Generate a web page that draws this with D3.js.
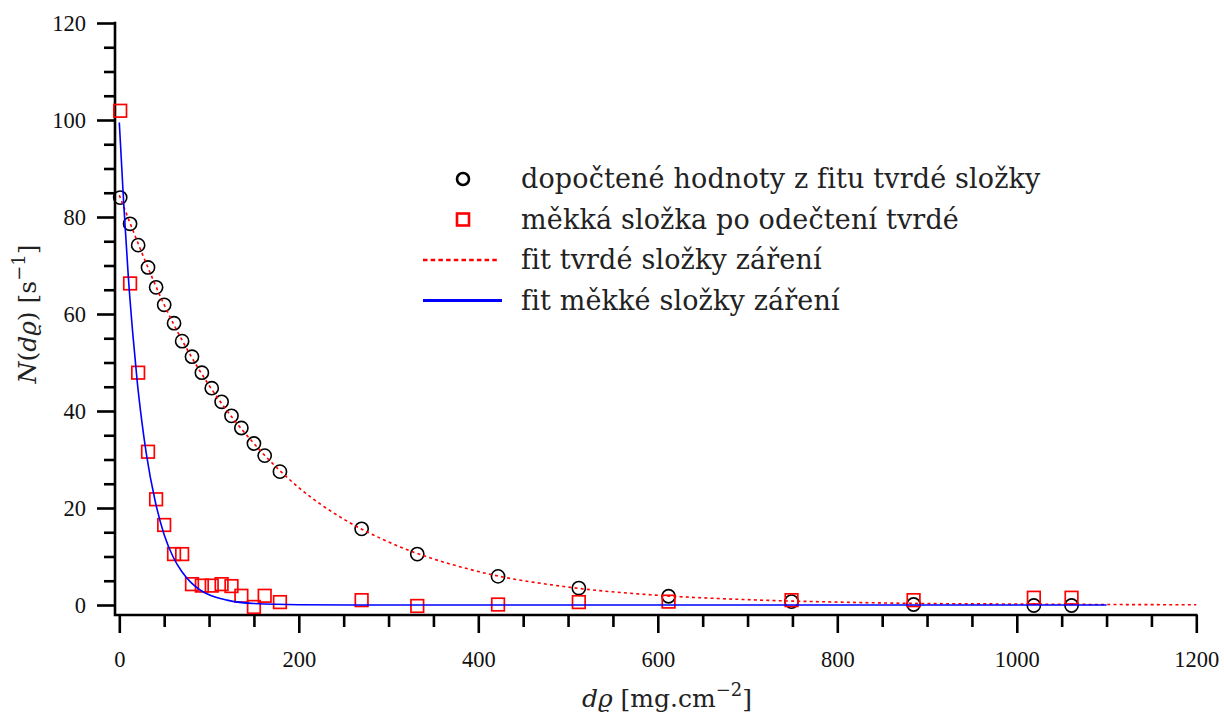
<!DOCTYPE html>
<html>
<head>
<meta charset="utf-8">
<script src="https://cdn.jsdelivr.net/npm/d3@7"></script>
<style>
    body { margin: 0; background: #fff; }
    svg { display: block; }
</style>
</head>
<body>
<svg id="chart" width="1224" height="715"></svg>
<script>
// plošná hustota absorbátoru [mg.cm^-2]
const thickness = [1, 12, 21, 32, 41, 50, 61, 70, 81, 92, 103, 114, 125, 136, 150, 162, 179,
    270, 332, 422, 512, 612, 749, 885, 1019, 1061];
// dopočtené hodnoty z fitu tvrdé složky
const hardCounts = [84.0, 78.6, 74.2, 69.6, 65.5, 61.9, 58.1, 54.4, 51.2, 47.9, 44.7, 41.9, 39.0,
    36.5, 33.3, 30.8, 27.5, 15.7, 10.5, 5.9, 3.5, 1.8, 0.7, 0.1, -0.1, -0.1];
// měkká složka po odečtení tvrdé
const softCounts = [101.9, 66.3, 47.9, 31.6, 21.8, 16.5, 10.5, 10.5, 4.3, 4.0, 4.0, 4.3, 3.9,
    1.9, -0.4, 1.9, 0.6, 1.0, -0.2, 0.1, 0.6, 0.7, 1.0, 1.0, 1.5, 1.5];

// body odečtené z křivek fitů
const hardFitX = [0, 25, 50, 75, 100, 150, 200, 250, 300, 400, 500, 600, 700, 800, 900, 1000, 1100, 1200];
const hardFitY = [84.5, 72.7, 61.9, 52.9, 45.3, 33.3, 24.2, 17.7, 13.0, 6.9, 3.7, 2.0, 1.1, 0.6, 0.3, 0.2, 0.1, 0.05];
const softFitX = [0, 5, 10, 15, 20, 25, 30, 40, 50, 60, 70, 80, 90, 100, 120, 150, 200, 300, 500, 800, 1100];
const softFitY = [99.5, 82.5, 67.8, 56.0, 46.0, 38.0, 31.3, 21.4, 14.5, 9.9, 6.8, 4.6, 3.1, 2.1, 1.0, 0.3, 0.05, 0, 0, 0, 0];

const xMajor = [0, 200, 400, 600, 800, 1000, 1200];
const yMajor = [0, 20, 40, 60, 80, 100, 120];

const legendItems = [
    "dopočtené hodnoty z fitu tvrdé složky",
    "měkká složka po odečtení tvrdé",
    "fit tvrdé složky záření",
    "fit měkké složky záření"
];

const tickFont = "'Liberation Serif', serif";
const textFont = "'DejaVu Serif', serif";

const svg = d3.select("#chart");
svg.append("rect").attr("width", 1224).attr("height", 715).attr("fill", "#fff");

const x = d3.scaleLinear().domain([0, 1200]).range([119.3, 1196.3]);
const y = d3.scaleLinear().domain([0, 120]).range([605, 23]);

const leftX = 115;
const bottomY = 615;

// osy
const xMinor = d3.range(0, 1201, 50).filter(v => v % 200 !== 0);
const yMinor = d3.range(0, 121, 5).filter(v => v % 20 !== 0);

const styleAxis = g => {
    g.select(".domain").remove();
    g.attr("font-family", tickFont).attr("font-size", 22.5);
    g.selectAll(".tick line").attr("stroke", "#000").attr("stroke-width", 2.6);
    g.selectAll(".tick text").attr("fill", "#111");
};

svg.append("g")
    .attr("transform", `translate(0,${bottomY})`)
    .call(d3.axisBottom(x).tickValues(xMinor).tickSize(12).tickFormat(""))
    .call(styleAxis);
svg.append("g")
    .attr("transform", `translate(0,${bottomY})`)
    .call(d3.axisBottom(x).tickValues(xMajor).tickSize(18).tickPadding(18).tickFormat(d3.format("d")))
    .call(styleAxis)
    .selectAll(".tick text").attr("dy", "0.71em");

svg.append("g")
    .attr("transform", `translate(${leftX},0)`)
    .call(d3.axisLeft(y).tickValues(yMinor).tickSize(11).tickFormat(""))
    .call(styleAxis);
svg.append("g")
    .attr("transform", `translate(${leftX},0)`)
    .call(d3.axisLeft(y).tickValues(yMajor).tickSize(18).tickPadding(11).tickFormat(d3.format("d")))
    .call(styleAxis);

svg.append("path")
    .attr("d", `M${leftX},${y(120) - 1.3}V${bottomY}H${x(1200) + 1.3}`)
    .attr("fill", "none")
    .attr("stroke", "#000")
    .attr("stroke-width", 2.6);

// body
const pts = thickness.map((t, i) => ({t, hard: hardCounts[i], soft: softCounts[i]}));

svg.append("g").selectAll("circle")
    .data(pts)
    .join("circle")
    .attr("cx", d => x(d.t))
    .attr("cy", d => y(d.hard))
    .attr("r", 6.6)
    .attr("fill", "none")
    .attr("stroke", "#000")
    .attr("stroke-width", 1.6);

const sq = 12.6;
svg.append("g").selectAll("rect")
    .data(pts)
    .join("rect")
    .attr("x", d => x(d.t) - sq / 2)
    .attr("y", d => y(d.soft) - sq / 2)
    .attr("width", sq)
    .attr("height", sq)
    .attr("fill", "none")
    .attr("stroke", "#f00")
    .attr("stroke-width", 1.7);

// fity
const line = d3.line()
    .x(d => x(d[0]))
    .y(d => y(d[1]))
    .curve(d3.curveMonotoneX);

svg.append("path")
    .attr("d", line(d3.zip(hardFitX, hardFitY)))
    .attr("fill", "none")
    .attr("stroke", "#f00")
    .attr("stroke-width", 1.6)
    .attr("stroke-dasharray", "3,3.2");

svg.append("path")
    .attr("d", line(d3.zip(softFitX, softFitY)))
    .attr("fill", "none")
    .attr("stroke", "#00f")
    .attr("stroke-width", 1.6);

// legenda
const legend = svg.append("g");
const rowY = i => 179 + i * 40.5;

legend.append("circle")
    .attr("cx", 463).attr("cy", rowY(0)).attr("r", 6)
    .attr("fill", "none").attr("stroke", "#000").attr("stroke-width", 2.6);
legend.append("rect")
    .attr("x", 457).attr("y", rowY(1) - 6).attr("width", 12).attr("height", 12)
    .attr("fill", "none").attr("stroke", "#f00").attr("stroke-width", 2.6);
legend.append("line")
    .attr("x1", 423).attr("x2", 498).attr("y1", rowY(2)).attr("y2", rowY(2))
    .attr("stroke", "#f00").attr("stroke-width", 2.6).attr("stroke-dasharray", "4.5,3.2");
legend.append("line")
    .attr("x1", 423).attr("x2", 502).attr("y1", rowY(3)).attr("y2", rowY(3))
    .attr("stroke", "#00f").attr("stroke-width", 2.8);

legend.selectAll("text")
    .data(legendItems)
    .join("text")
    .attr("font-family", textFont)
    .attr("font-size", 27)
    .attr("letter-spacing", 0.15)
    .attr("fill", "#222")
    .attr("x", 521)
    .attr("y", (d, i) => rowY(i) + 9)
    .text(d => d);

// popisky os
const xLabel = svg.append("text")
    .attr("font-family", textFont)
    .attr("font-size", 25)
    .attr("fill", "#222")
    .attr("x", 667)
    .attr("y", 707)
    .attr("text-anchor", "middle");
xLabel.append("tspan").attr("font-style", "italic").text("dϱ");
xLabel.append("tspan").text(" [mg.cm");
xLabel.append("tspan").attr("font-size", 18).attr("dy", -11).text("−2");
xLabel.append("tspan").attr("dy", 11).text("]");

const yLabel = svg.append("text")
    .attr("font-family", textFont)
    .attr("font-size", 25)
    .attr("fill", "#222")
    .attr("transform", "translate(36,314) rotate(-90)")
    .attr("text-anchor", "middle");
yLabel.append("tspan").attr("font-style", "italic").text("N");
yLabel.append("tspan").text("(");
yLabel.append("tspan").attr("font-style", "italic").text("dϱ");
yLabel.append("tspan").text(") [s");
yLabel.append("tspan").attr("font-size", 18).attr("dy", -11).text("−1");
yLabel.append("tspan").attr("dy", 11).text("]");
</script>
</body>
</html>
